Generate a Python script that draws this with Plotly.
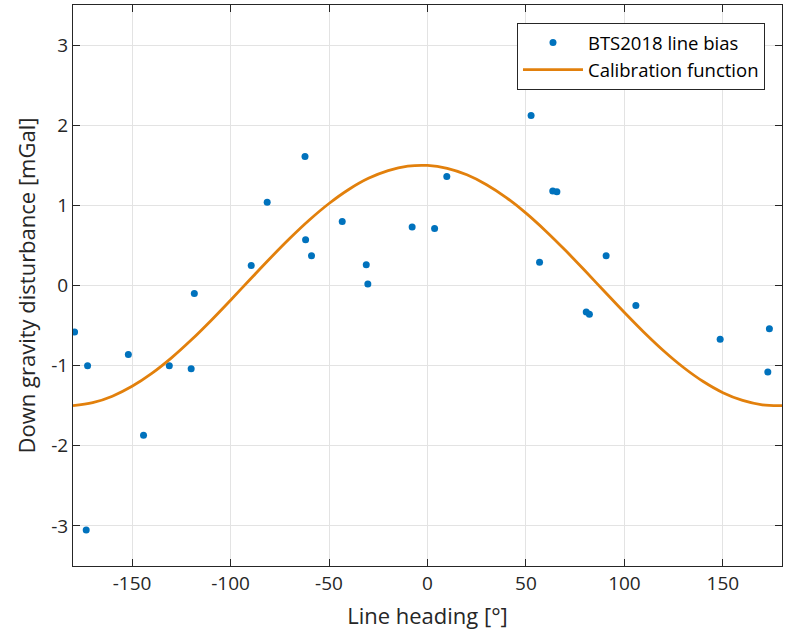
import plotly.graph_objects as go

# Line bias per survey line: heading [deg] and down gravity disturbance [mGal]
heading = [-179.2, -172.6, -173.3, -151.9, -144.2, -131.1, -120.0, -118.4,
           -89.5, -81.4, -62.2, -61.9, -58.9, -43.3, -31.1, -30.3,
           -7.8, 3.6, 9.8, 52.6, 56.9, 63.6, 65.7, 80.6, 82.2, 90.7,
           105.8, 148.6, 172.8, 173.6]
bias = [-0.58, -1.00, -3.05, -0.86, -1.87, -1.00, -1.04, -0.10,
        0.25, 1.04, 1.61, 0.57, 0.37, 0.80, 0.26, 0.02,
        0.73, 0.71, 1.36, 2.12, 0.29, 1.18, 1.17, -0.33, -0.36, 0.37,
        -0.25, -0.67, -1.08, -0.54]

# Calibration curve sampled every 10 deg
cal_heading = [-180, -170, -160, -150, -140, -130, -120, -110, -100, -90,
               -80, -70, -60, -50, -40, -30, -20, -10, 0, 10,
               20, 30, 40, 50, 60, 70, 80, 90, 100, 110,
               120, 130, 140, 150, 160, 170, 180]
cal_value = [-1.498, -1.462, -1.381, -1.258, -1.097, -0.903, -0.681, -0.439, -0.183, 0.078,
             0.337, 0.586, 0.817, 1.023, 1.198, 1.337, 1.434, 1.489, 1.498, 1.462,
             1.381, 1.258, 1.097, 0.903, 0.681, 0.439, 0.183, -0.078, -0.337, -0.586,
             -0.817, -1.023, -1.198, -1.337, -1.434, -1.489, -1.498]

x_ticks = [-150, -100, -50, 0, 50, 100, 150]
x_tick_labels = ["-150", "-100", "-50", "0", "50", "100", "150"]
y_ticks = [-3, -2, -1, 0, 1, 2, 3]
y_tick_labels = ["-3", "-2", "-1", "0", "1", "2", "3"]

FONT = "Open Sans"
AXIS_COLOR = "#262626"

fig = go.Figure()
fig.add_trace(go.Scatter(
    x=heading, y=bias, mode="markers", name="BTS2018 line bias",
    marker=dict(color="#0072BD", size=7),
))
fig.add_trace(go.Scatter(
    x=cal_heading, y=cal_value, mode="lines", name="Calibration function",
    line=dict(color="#E2800C", width=2.8, shape="spline", smoothing=1.0),
))

axis_common = dict(
    showline=True, linecolor=AXIS_COLOR, linewidth=1, mirror="ticks",
    ticks="inside", ticklen=7, tickcolor=AXIS_COLOR, tickwidth=1,
    showgrid=True, gridcolor="#E3E3E3", gridwidth=1, zeroline=False,
    tickfont=dict(family=FONT, size=19, color=AXIS_COLOR),
)

fig.update_xaxes(
    range=[-180, 180], tickvals=x_ticks, ticktext=x_tick_labels,
    title=dict(text="Line heading [°]", font=dict(family=FONT, size=22, color=AXIS_COLOR), standoff=13),
    **axis_common,
)
fig.update_yaxes(
    range=[-3.5, 3.5], tickvals=y_ticks, ticktext=y_tick_labels,
    title=dict(text="Down gravity disturbance [mGal]", font=dict(family=FONT, size=22, color=AXIS_COLOR), standoff=9),
    **axis_common,
)

fig.update_layout(
    width=785, height=639,
    margin=dict(l=73, r=3, t=5, b=73),
    paper_bgcolor="white", plot_bgcolor="white",
    showlegend=True,
    legend=dict(
        x=0.976, y=0.968, xanchor="right", yanchor="top",
        bgcolor="white", bordercolor=AXIS_COLOR, borderwidth=1,
        font=dict(family=FONT, size=18.5, color="black"),
        itemwidth=60, tracegroupgap=0,
    ),
)

fig.write_html("out.html")
